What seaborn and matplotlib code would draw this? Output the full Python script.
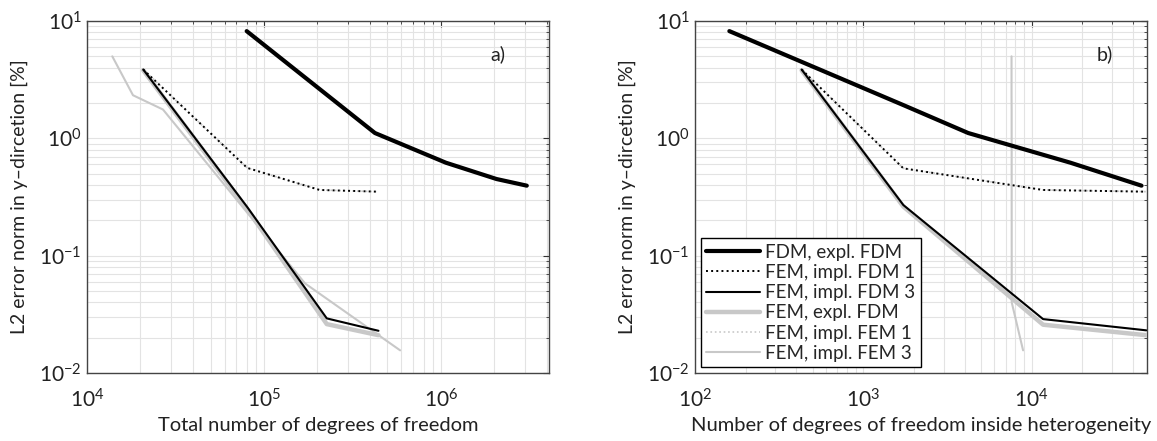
import numpy as np
import pandas as pd
import matplotlib
matplotlib.use("Agg")
import matplotlib.pyplot as plt
from matplotlib.ticker import LogLocator, FuncFormatter, NullFormatter
import seaborn as sns

# ---------------- data ----------------
series_names = ["FDM, expl. FDM", "FEM, impl. FDM 1", "FEM, impl. FDM 3",
                "FEM, expl. FDM", "FEM, impl. FEM 1", "FEM, impl. FEM 3"]

# panel a) total number of degrees of freedom
a_fdm_x = [8.0e4, 4.25e5, 1.07e6, 2.07e6, 3.07e6]
a_fdm_y = [8.2, 1.11, 0.62, 0.45, 0.395]
a_impl1_x = [2.08e4, 8.05e4, 2.07e5, 4.44e5]
a_impl1_y = [3.86, 0.56, 0.363, 0.351]
a_impl3_x = [2.08e4, 8.05e4, 2.27e5, 4.45e5]
a_impl3_y = [3.86, 0.26, 0.0292, 0.0229]
a_femexpl_x = [2.08e4, 8.05e4, 2.27e5, 4.45e5]
a_femexpl_y = [3.80, 0.25, 0.0261, 0.0210]
a_fem1_x = [2.08e4, 8.05e4, 2.07e5, 4.44e5]
a_fem1_y = [3.86, 0.56, 0.363, 0.351]
a_fem3_x = [1.39e4, 1.82e4, 2.69e4, 1.71e5, 5.9e5]
a_fem3_y = [5.0, 2.33, 1.76, 0.058, 0.0156]

# panel b) number of degrees of freedom inside heterogeneity
b_fdm_x = [160, 1730, 4200, 17000, 45000]
b_fdm_y = [8.2, 1.92, 1.11, 0.62, 0.395]
b_impl1_x = [430, 1730, 11700, 48000]
b_impl1_y = [3.86, 0.555, 0.363, 0.351]
b_impl3_x = [430, 1730, 11700, 48000]
b_impl3_y = [3.86, 0.27, 0.0288, 0.0231]
b_femexpl_x = [430, 1730, 11700, 48000]
b_femexpl_y = [3.80, 0.262, 0.0258, 0.0210]
b_fem1_x = [430, 1730, 11700, 48000]
b_fem1_y = [3.86, 0.555, 0.363, 0.351]
b_fem3_x = [7600, 7600, 7610, 7620, 8900]
b_fem3_y = [5.0, 2.33, 1.76, 0.040, 0.0156]

xlabels = ["Total number of degrees of freedom",
           "Number of degrees of freedom inside heterogeneity"]
ylabel = "L2 error norm in y\u2013dircetion [%]"
panel_tags = ["a)", "b)"]

# ---------------- style ----------------
sns.set_theme(style="white")
plt.rcParams['font.family'] = ['Lato', 'DejaVu Sans']
plt.rcParams['mathtext.default'] = 'regular'

styles = {
    "FDM, expl. FDM":   dict(color="black",   lw=3.0, ls="-", z=6),
    "FEM, impl. FDM 1": dict(color="black",   lw=1.4, ls=":", z=5),
    "FEM, impl. FDM 3": dict(color="black",   lw=1.5, ls="-", z=5),
    "FEM, expl. FDM":   dict(color="#c8c8c8", lw=3.2, ls="-", z=3),
    "FEM, impl. FEM 1": dict(color="#c8c8c8", lw=1.2, ls=":", z=2),
    "FEM, impl. FEM 3": dict(color="#c8c8c8", lw=1.5, ls="-", z=4),
}

panels = [
    [(a_fdm_x, a_fdm_y), (a_impl1_x, a_impl1_y), (a_impl3_x, a_impl3_y),
     (a_femexpl_x, a_femexpl_y), (a_fem1_x, a_fem1_y), (a_fem3_x, a_fem3_y)],
    [(b_fdm_x, b_fdm_y), (b_impl1_x, b_impl1_y), (b_impl3_x, b_impl3_y),
     (b_femexpl_x, b_femexpl_y), (b_fem1_x, b_fem1_y), (b_fem3_x, b_fem3_y)],
]
xlims = [(1e4, 4.1e6), (1e2, 4.85e4)]
tag_x = [0.905, 0.925]

W, H = 1157, 441
fig = plt.figure(figsize=(W / 100, H / 100), dpi=100)
rects = [[87 / W, 68 / H, 462 / W, 352 / H], [695 / W, 68 / H, 452 / W, 352 / H]]


def pow_fmt(v, pos):
    e = int(round(np.log10(v)))
    if e >= 0:
        return r"$10^{%d}$" % e
    return r"$10^{-%d}$" % (-e)


for i, (rect, data) in enumerate(zip(rects, panels)):
    ax = fig.add_axes(rect)
    for name, (xs, ys) in zip(series_names, data):
        st = styles[name]
        df = pd.DataFrame({"x": xs, "y": ys})
        sns.lineplot(data=df, x="x", y="y", ax=ax, sort=False, estimator=None,
                     color=st["color"], linewidth=st["lw"], linestyle=st["ls"],
                     label=name, zorder=st["z"])
    ax.set_xscale("log")
    ax.set_yscale("log")
    ax.set_xlim(*xlims[i])
    ax.set_ylim(1e-2, 1e1)
    ax.xaxis.set_major_locator(LogLocator(base=10, numticks=10))
    ax.xaxis.set_minor_locator(LogLocator(base=10, subs=np.arange(2, 10), numticks=20))
    ax.yaxis.set_major_locator(LogLocator(base=10, numticks=10))
    ax.yaxis.set_minor_locator(LogLocator(base=10, subs=np.arange(2, 10), numticks=20))
    ax.xaxis.set_major_formatter(FuncFormatter(pow_fmt))
    ax.yaxis.set_major_formatter(FuncFormatter(pow_fmt))
    ax.xaxis.set_minor_formatter(NullFormatter())
    ax.yaxis.set_minor_formatter(NullFormatter())
    ax.grid(True, which="both", color="#e3e3e3", linewidth=0.8, zorder=0)
    ax.set_axisbelow(True)
    ax.tick_params(which="both", direction="in", top=True, right=True,
                   colors="#333333", labelcolor="#222222")
    ax.tick_params(which="major", length=4, width=0.8, labelsize=15)
    ax.tick_params(which="minor", length=2.5, width=0.6)
    ax.tick_params(axis="x", which="major", pad=11)
    ax.tick_params(axis="y", which="major", pad=4)
    for sp in ax.spines.values():
        sp.set_color("#444444")
        sp.set_linewidth(1.0)
    ax.set_xlabel(xlabels[i], fontsize=14.5, color="#222222", labelpad=4)
    ax.set_ylabel(ylabel, fontsize=14, color="#222222", labelpad=8)
    ax.text(tag_x[i], 0.905, panel_tags[i], transform=ax.transAxes, fontsize=14,
            ha="right", va="center", color="#222222")
    if i == 1:
        leg = ax.legend(loc="lower left", frameon=True, fancybox=False,
                        edgecolor="black", framealpha=1, fontsize=13.5,
                        handlelength=2.85, handletextpad=0.3, labelspacing=0.17,
                        borderpad=0.3, borderaxespad=0.3)
        leg.get_frame().set_linewidth(1.0)
    else:
        ax.get_legend().remove()

fig.savefig("out.png", dpi=100)
